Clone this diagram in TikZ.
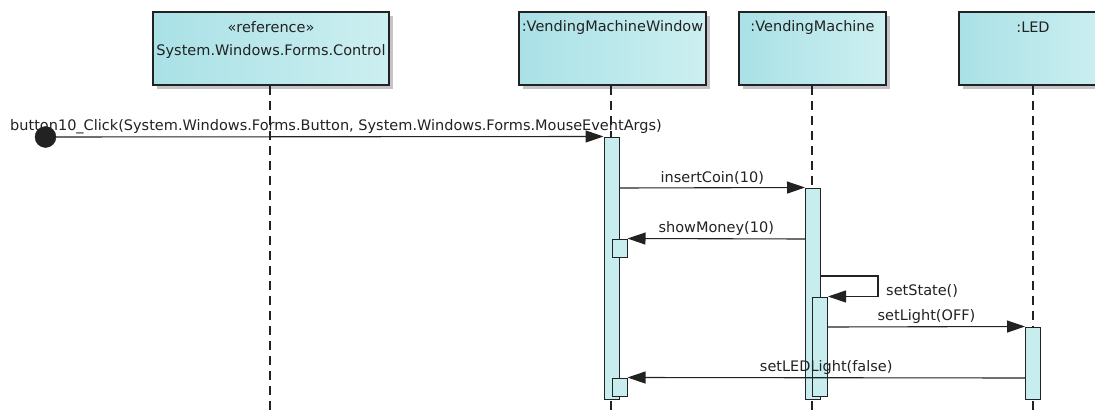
\documentclass[tikz,border=0pt]{standalone}
\usepackage{fontspec}
\setmainfont{DejaVu Sans}
\usetikzlibrary{arrows.meta,shadows,calc}
\definecolor{boxL}{HTML}{A9E1E6}
\definecolor{boxR}{HTML}{CDEFF1}
\definecolor{actfill}{HTML}{C8EDEE}
\definecolor{ink}{HTML}{222222}
\definecolor{shade}{HTML}{C4C4C8}
\tikzset{
  x=1pt, y=-1pt,
  every node/.style={font=\fontsize{14.5}{17}\selectfont, text=ink},
  objbox/.style={draw=ink, line width=1.1pt, left color=boxL, right color=boxR,
    general shadow={fill=shade, shadow xshift=4pt, shadow yshift=-4pt},
    rectangle, inner sep=0pt},
  boxtext/.style={inner sep=0pt, anchor=center},
  lifeline/.style={draw=ink, line width=1.3pt, dash pattern=on 9pt off 6pt},
  actbar/.style={draw=ink, line width=1pt, fill=actfill, rectangle, inner sep=0pt, minimum width=15pt},
  msg/.style={draw=ink, line width=1.1pt, -{Triangle[length=18pt,width=12pt]}},
  msglabel/.style={inner sep=0pt, anchor=south, yshift=3pt},
}
\begin{document}
\begin{tikzpicture}
\useasboundingbox (0,0) rectangle (1095,412);
\clip (0,0) rectangle (1095,412);
\fill[white] (0,0) rectangle (1095,412);

% lifeline heads
\node[objbox, minimum width=236pt, minimum height=73pt] (b1) at (271,48.5) {};
\node[objbox, minimum width=187pt, minimum height=73pt] (b2) at (612.5,48.5) {};
\node[objbox, minimum width=147pt, minimum height=73pt] (b3) at (812.5,48.5) {};
\node[objbox, minimum width=148pt, minimum height=73pt] (b4) at (1033,48.5) {};

\node[boxtext] (t1a) at ([yshift=-16pt]b1.north) {«reference»};
\node[boxtext] (t1b) at ([yshift=-40pt]b1.north) {System.Windows.Forms.Control};
\node[boxtext] (t2) at ([yshift=-16pt]b2.north) {:VendingMachineWindow};
\node[boxtext] (t3) at ([yshift=-16pt]b3.north) {:VendingMachine};
\node[boxtext] (t4) at ([yshift=-16pt]b4.north) {:LED};

% lifeline ends
\coordinate (e1) at (270,412);
\coordinate (e2) at (611,412);
\coordinate (e3) at (812,412);
\coordinate (e4) at (1033,412);

% message label under the lines
\node[inner sep=0pt, anchor=west] (l1) at (10,127) {button10\_Click(System.Windows.Forms.Button, System.Windows.Forms.MouseEventArgs)};

\path[lifeline] (b1.south -| e1) -- (e1);
\path[lifeline] (b2.south -| e2) -- (e2);
\path[lifeline] (b3.south -| e3) -- (e3);
\path[lifeline] (b4.south -| e4) -- (e4);

% activation bars
\node[actbar, minimum height=262pt] (aW) at (611.5,268) {};
\node[actbar, minimum height=18pt] (aW1) at (619.5,248) {};
\node[actbar, minimum height=18pt] (aW2) at (619.5,387) {};
\node[actbar, minimum height=211pt] (aV) at (813,293.5) {};
\node[actbar, minimum height=99pt] (aV1) at (820,346.5) {};
\node[actbar, minimum height=72pt] (aL) at (1033,363) {};

% message heights
\coordinate (m2) at (0,188);
\coordinate (m3) at (0,239);
\coordinate (m4) at (0,276);
\coordinate (m5) at (0,327);
\coordinate (m6) at (0,378);
\coordinate (sr) at (878,276);
\coordinate (st) at (45.5,137);

\draw[msg] (st) -- (aW.north west);
\node[circle, fill=ink, draw=ink, minimum size=21pt, inner sep=0pt] (start) at (st) {};

\draw[msg] (aW.east |- m2) -- node[msglabel] (l2) {insertCoin(10)} (aV.north west);
\draw[msg] (aV.west |- m3) -- node[msglabel] (l3) {showMoney(10)} (aW1.north east);
\draw[msg] (aV.east |- m4) -- (sr) -- (sr |- aV1.north) -- (aV1.north east);
\node[inner sep=0pt, anchor=west] (l4) at (886,291) {setState()};
\draw[msg] (aV1.east |- m5) -- node[msglabel] (l5) {setLight(OFF)} (aL.north west);
\draw[msg] (aL.west |- m6) -- node[msglabel] (l6) {setLEDLight(false)} (aW2.north east);
\end{tikzpicture}
\end{document}
